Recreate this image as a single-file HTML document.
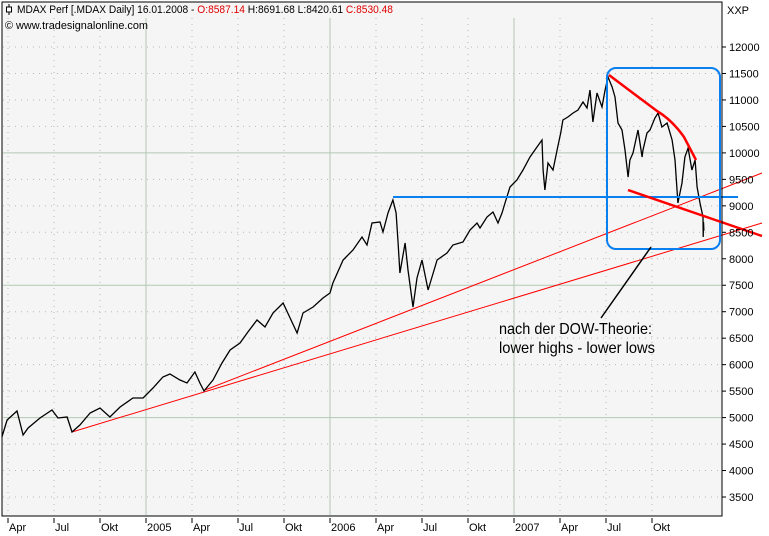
<!DOCTYPE html>
<html><head><meta charset="utf-8"><style>
html,body{margin:0;padding:0;background:#fff;}
svg{display:block;font-family:"Liberation Sans",sans-serif;}
</style></head><body>
<svg id="chart" width="769" height="536" viewBox="0 0 769 536" xmlns="http://www.w3.org/2000/svg">
<rect x="0" y="0" width="769" height="536" fill="#ffffff"/>
<rect x="2" y="2" width="720" height="514" fill="#f5f5f5"/>
<g id="grid"></g>
<g id="annot-under"></g>
<path id="series" fill="none" stroke="#000" stroke-width="1.3"/>
<g id="annot"></g>
<rect x="2" y="2" width="720" height="514" fill="none" stroke="#000" stroke-width="1"/>
<g id="yaxis"></g>
<g id="xaxis"></g>
<g>
<rect x="3" y="3" width="400" height="14" fill="#f5f5f5"/>
<g><line x1="9" y1="4" x2="9" y2="15" stroke="#000"/><rect x="6.5" y="7" width="5" height="5" fill="#fff" stroke="#000"/></g>
<text x="17" y="13" font-size="11" textLength="376" lengthAdjust="spacingAndGlyphs">MDAX Perf [.MDAX  Daily] 16.01.2008 - <tspan fill="#e00000">O:8587.14</tspan> H:8691.68 L:8420.61 <tspan fill="#e00000">C:8530.48</tspan></text>
<text x="5" y="29" font-size="11" textLength="143" lengthAdjust="spacingAndGlyphs">© www.tradesignalonline.com</text>
</g>
<text x="727" y="14" font-size="11">XXP</text>
<g>
<line x1="651" y1="247" x2="601" y2="318" stroke="#000" stroke-width="1.5"/>
<text x="499" y="334" font-size="16" textLength="153" lengthAdjust="spacingAndGlyphs">nach der DOW-Theorie:</text>
<text x="499" y="353" font-size="16" textLength="156" lengthAdjust="spacingAndGlyphs">lower highs - lower lows</text>
</g>
</svg>
<script>
const dates=[2004.217,2004.245,2004.299,2004.332,2004.359,2004.424,2004.489,2004.522,2004.571,2004.598,2004.641,2004.696,2004.750,2004.804,2004.859,2004.929,2004.984,2005.038,2005.092,2005.130,2005.185,2005.223,2005.266,2005.293,2005.315,2005.364,2005.413,2005.457,2005.511,2005.554,2005.603,2005.647,2005.690,2005.745,2005.783,2005.821,2005.853,2005.908,2005.962,2006.000,2006.016,2006.071,2006.125,2006.174,2006.201,2006.228,2006.272,2006.288,2006.315,2006.342,2006.359,2006.370,2006.380,2006.408,2006.424,2006.451,2006.473,2006.500,2006.533,2006.582,2006.636,2006.668,2006.723,2006.761,2006.799,2006.815,2006.853,2006.886,2006.913,2006.935,2006.951,2006.978,2007.016,2007.049,2007.087,2007.125,2007.152,2007.158,2007.168,2007.185,2007.212,2007.234,2007.255,2007.266,2007.293,2007.321,2007.348,2007.375,2007.397,2007.413,2007.429,2007.451,2007.478,2007.495,2007.511,2007.533,2007.549,2007.565,2007.587,2007.603,2007.620,2007.630,2007.647,2007.674,2007.696,2007.701,2007.723,2007.739,2007.766,2007.783,2007.804,2007.832,2007.859,2007.875,2007.891,2007.913,2007.929,2007.946,2007.967,2007.984,2007.995,2008.011,2008.027,2008.028,2008.030,2008.032];
const closes=[4633,4955,5125,4671,4803,4992,5143,4992,5011,4728,4860,5087,5181,5011,5200,5370,5370,5559,5767,5824,5710,5653,5861,5653,5502,5710,6031,6277,6409,6617,6844,6711,6976,7165,6881,6598,6976,7089,7259,7354,7543,7977,8166,8411,8260,8676,8695,8506,8865,9110,8865,8298,7731,8298,7788,7089,7637,7977,7410,7977,8109,8260,8317,8544,8676,8582,8789,8884,8676,8865,9054,9356,9488,9677,9923,10112,10244,9677,9299,9809,9677,10055,10395,10622,10678,10754,10811,10962,10848,11188,10584,11132,10867,11188,11434,11245,11056,10565,10433,10055,9545,9866,9998,10433,9923,10055,10376,10433,10659,10754,10489,10565,10244,9866,9054,9432,9923,10093,9677,9866,9356,9054,8789,8411,8695,8530];
const yTicks=[3500,4000,4500,5000,5500,6000,6500,7000,7500,8000,8500,9000,9500,10000,10500,11000,11500,12000];
const majorY=[5000,7500,10000];
const xTickDates=[2004.25,2004.5,2004.75,2005,2005.25,2005.5,2005.75,2006,2006.25,2006.5,2006.75,2007,2007.25,2007.5,2007.75];
const xTickLabels=["Apr","Jul","Okt","2005","Apr","Jul","Okt","2006","Apr","Jul","Okt","2007","Apr","Jul","Okt"];

const NS="http://www.w3.org/2000/svg";
function X(t){return 146+(t-2005)*184;}
function Y(v){return 497-(v-3500)*0.05294;}
function mk(tag,attrs,parent){const e=document.createElementNS(NS,tag);for(const k in attrs)e.setAttribute(k,attrs[k]);parent.appendChild(e);return e;}

const grid=document.getElementById('grid');
yTicks.forEach(v=>{
  const major=majorY.includes(v);
  const l=mk('line',{x1:3,x2:721,y1:Y(v),y2:Y(v),stroke:major?'#b4c8b4':'#b8b8b8','stroke-width':1,'stroke-dasharray':major?'':'1,5'},grid);
  
  
});
xTickDates.forEach((t,i)=>{
  const major=xTickLabels[i].length===4;
  const l=mk('line',{x1:X(t),x2:X(t),y1:18,y2:515,stroke:major?'#b4c8b4':'#b8b8b8','stroke-width':1,'stroke-dasharray':major?'':'1,5'},grid);
  
  
});

let d='';
dates.forEach((t,i)=>{d+=(i?'L':'M')+X(t).toFixed(1)+','+Y(closes[i]).toFixed(1);});
document.getElementById('series').setAttribute('d',d);

const under=document.getElementById('annot-under');
const an=document.getElementById('annot');
function ln(p,x1,y1,x2,y2,c,w,name){const l=mk('line',{x1,y1,x2,y2,stroke:c,'stroke-width':w},p);return l;}
ln(under,72,432,762,223,'#ff0000',1,'trendline-2004');
ln(under,205,390,762,173,'#ff0000',1,'trendline-2005');
ln(an,393,197,738,197,'#0a7ff0',2,'resistance-line');
const box=mk('rect',{x:607,y:68,width:113,height:181,rx:9,fill:'none',stroke:'#0a7ff0','stroke-width':2},an);


const hi=mk('path',{d:'M609,75 L657,111 Q672,120 684,137 L696,160',fill:'none',stroke:'#ff0000','stroke-width':2.5},an);


const lo=mk('path',{d:'M628,190 L762,236',fill:'none',stroke:'#ff0000','stroke-width':2.5},an);



const ya=document.getElementById('yaxis');
yTicks.forEach(v=>{
  ln(ya,722,Y(v),726,Y(v),'#000',1,'y-tick');
  const t=mk('text',{x:729,y:Y(v)+4,'font-size':11},ya);t.textContent=v;
  
  
});
const xa=document.getElementById('xaxis');
xTickDates.forEach((t,i)=>{
  ln(xa,X(t),518,X(t),523,'#000',1,'x-tick');
  const tx=mk('text',{x:X(t)+1,y:531,'font-size':11},xa);tx.textContent=xTickLabels[i];
  
  
});
</script>
</body></html>
